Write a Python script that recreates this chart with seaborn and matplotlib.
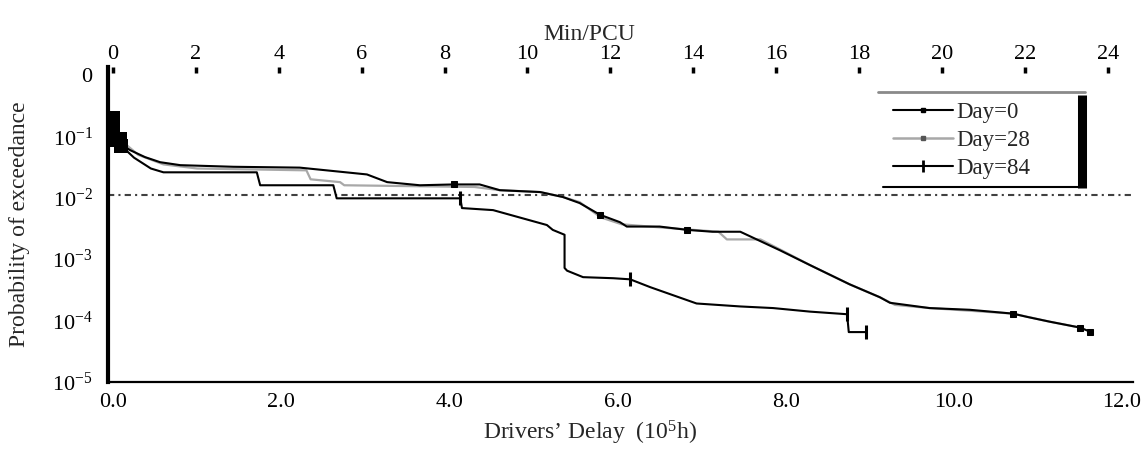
import matplotlib
matplotlib.use("Agg")
import matplotlib.pyplot as plt
from matplotlib.lines import Line2D
from matplotlib.ticker import FixedLocator, NullLocator
import seaborn as sns

# exceedance curves (delay in 10^5 h, probability)
days = ["Day=0", "Day=28", "Day=84"]

day0_delay = [0.0, 0.0, 0.02, 0.2, 0.38, 0.56, 0.8, 1.43, 2.22, 3.02, 3.26, 3.65, 4.05,
              4.36, 4.6, 5.08, 5.35, 5.55, 5.79, 6.03, 6.11, 6.5, 6.83, 7.13, 7.46, 7.93,
              8.29, 8.76, 9.12, 9.24, 9.71, 10.19, 10.7, 10.87, 11.14, 11.5, 11.62]
day0_prob = [0.2, 0.15, 0.087, 0.06, 0.046, 0.038, 0.034, 0.032, 0.031, 0.024, 0.018, 0.016,
             0.0165, 0.0165, 0.0133, 0.0124, 0.0103, 0.0082, 0.0053, 0.004, 0.0034, 0.0034,
             0.003, 0.0028, 0.0028, 0.0014, 8.0e-4, 3.9e-4, 2.4e-4, 1.95e-4, 1.6e-4, 1.5e-4,
             1.3e-4, 1.15e-4, 9.6e-5, 7.7e-5, 6.6e-5]

day28_delay = [0.0, 0.08, 0.3, 0.6, 1.0, 2.3, 2.35, 2.7, 2.75, 4.3, 4.6, 5.08, 5.35, 5.55,
               5.8, 6.05, 6.5, 7.2, 7.3, 7.7, 7.95, 8.29, 8.76, 9.12, 9.3, 9.71, 10.7,
               11.14, 11.5]
day28_prob = [0.17, 0.09, 0.05, 0.035, 0.03, 0.028, 0.02, 0.018, 0.016, 0.015, 0.0133, 0.0124,
              0.0103, 0.0085, 0.0048, 0.0037, 0.0033, 0.0028, 0.0021, 0.0021, 0.0014, 8.0e-4,
              3.9e-4, 2.4e-4, 1.8e-4, 1.6e-4, 1.3e-4, 9.6e-5, 7.7e-5]

day84_delay = [0.0, 0.1, 0.25, 0.45, 0.6, 1.71, 1.75, 2.62, 2.66, 4.13, 4.15, 4.52, 5.16,
               5.23, 5.37, 5.37, 5.4, 5.59, 5.95, 6.15, 6.39, 6.94, 7.46, 7.85, 8.29, 8.73,
               8.75, 8.95]
day84_prob = [0.12, 0.07, 0.045, 0.03, 0.026, 0.026, 0.016, 0.016, 0.0098, 0.0098, 0.0068,
              0.0063, 0.0036, 0.003, 0.0025, 7.2e-4, 6.5e-4, 5.1e-4, 4.9e-4, 4.7e-4, 3.5e-4,
              1.9e-4, 1.7e-4, 1.6e-4, 1.4e-4, 1.27e-4, 6.5e-5, 6.5e-5]

bottom_ticks = [0.0, 2.0, 4.0, 6.0, 8.0, 10.0, 12.0]
bottom_labels = ["0.0", "2.0", "4.0", "6.0", "8.0", "10.0", "12.0"]
top_ticks = [0, 2, 4, 6, 8, 10, 12, 14, 16, 18, 20, 22, 24]
y_ticks = [1.0, 1e-1, 1e-2, 1e-3, 1e-4, 1e-5]
y_labels = ["0", "10$^{-1}$", "10$^{-2}$", "10$^{-3}$", "10$^{-4}$", "10$^{-5}$"]
threshold = 0.011
minpcu_per_delay = 24 / 11.83

sns.set_theme(style="white")
plt.rcParams["font.family"] = ["Liberation Serif", "DejaVu Serif"]
plt.rcParams["mathtext.fontset"] = "custom"
plt.rcParams["mathtext.rm"] = "Liberation Serif"
plt.rcParams["mathtext.it"] = "Liberation Serif:italic"
plt.rcParams["mathtext.bf"] = "Liberation Serif:bold"

TICK_FS = 16
LABEL_FS = 17

fig = plt.figure(figsize=(11.45, 4.5), dpi=100)
ax = fig.add_axes([0.0943, 0.1511, 0.8952, 0.70])

ax.axhline(threshold, color="#404040", lw=1.5, dashes=(3, 2, 1, 2), zorder=1)

sns.lineplot(x=day28_delay, y=day28_prob, ax=ax, sort=False, estimator=None,
             color="#a8a8a8", lw=1.6, zorder=2)
sns.lineplot(x=day84_delay, y=day84_prob, ax=ax, sort=False, estimator=None,
             color="black", lw=1.5, marker="|", ms=10, mew=2.2, mec="black",
             markevery=[9, 19, 25, 27], zorder=3)
sns.lineplot(x=day0_delay, y=day0_prob, ax=ax, sort=False, estimator=None,
             color="black", lw=1.5, marker="s", ms=4, mec="black", mfc="black",
             markevery=[2, 12, 18, 22, 32, 35, 36], zorder=4)

# dense cluster of points right at the start of all curves
sns.scatterplot(x=day0_delay[:3] + day84_delay[:2] + day28_delay[:2],
                y=day0_prob[:3] + day84_prob[:2] + day28_prob[:2],
                ax=ax, marker="s", s=90, color="black", edgecolor="black",
                linewidth=0, zorder=5, legend=False)

ax.set_yscale("log")
ax.set_ylim(1e-5, 10 ** 0.13)
ax.set_xlim(-0.06, 12.13)
ax.yaxis.set_major_locator(FixedLocator(y_ticks))
ax.yaxis.set_minor_locator(NullLocator())
ax.set_yticklabels(y_labels)
ax.set_xticks(bottom_ticks, labels=bottom_labels)
ax.xaxis.set_minor_locator(FixedLocator([1, 3, 5, 7, 9, 11]))
ax.tick_params(axis="both", which="major", length=0, labelsize=TICK_FS, colors="black")
ax.tick_params(axis="y", pad=11)
ax.tick_params(axis="x", pad=8)
ax.tick_params(axis="x", which="minor", direction="in", length=3, width=2.5, color="#222222")

for side in ["top", "right"]:
    ax.spines[side].set_visible(False)
ax.spines["left"].set_linewidth(3)
ax.spines["left"].set_color("black")
ax.spines["bottom"].set_linewidth(1.6)
ax.spines["bottom"].set_color("black")

ax.set_ylabel("Probability of exceedance", fontsize=LABEL_FS, labelpad=16)
ax.set_xlabel("Drivers\u2019 Delay  (10$^{5}$h)", fontsize=LABEL_FS, labelpad=5, x=0.47)

top = ax.secondary_xaxis("top", functions=(lambda d: d * minpcu_per_delay,
                                           lambda m: m / minpcu_per_delay))
top.set_xticks(top_ticks)
top.spines["top"].set_visible(False)
top.tick_params(direction="in", length=4, width=2.5, pad=2, labelsize=TICK_FS, colors="black")
top.set_xlabel("Min/PCU", fontsize=LABEL_FS, labelpad=4, x=0.47)

handles = [
    Line2D([], [], color="black", lw=1.5, marker="s", ms=3),
    Line2D([], [], color="#a8a8a8", lw=1.8, marker="s", ms=3, mfc="#555555", mec="#555555"),
    Line2D([], [], color="black", lw=1.5, marker="|", ms=9, mew=2),
]
ax.legend(handles, days, loc="upper left", bbox_to_anchor=(0.766, 0.888), frameon=False,
          fontsize=16.5, handlelength=2.6, handletextpad=0.15, labelspacing=0.3,
          borderpad=0, borderaxespad=0)

# legend frame pieces as drawn in the original
tr = ax.transAxes
ax.plot([0.751, 0.953], [0.921, 0.921], transform=tr, color="#8a8a8a", lw=2, clip_on=False)
ax.plot([0.950, 0.950], [0.911, 0.616], transform=tr, color="black", lw=6.5,
        solid_capstyle="butt", clip_on=False)
ax.plot([0.756, 0.948], [0.619, 0.619], transform=tr, color="black", lw=1.5, clip_on=False)

fig.savefig("out.png", dpi=100)
